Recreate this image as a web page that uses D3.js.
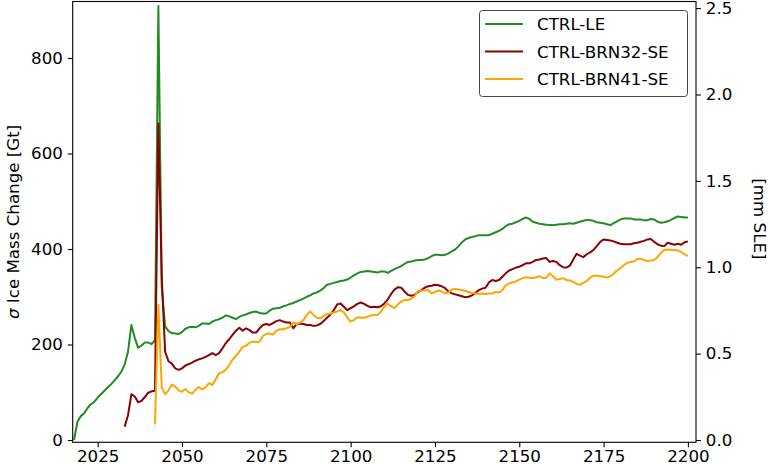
<!DOCTYPE html>
<html><head><meta charset="utf-8">
<script src="https://cdn.jsdelivr.net/npm/d3@7"></script>
<style>
body{margin:0;background:#fff}
svg{display:block}
text{font-family:"DejaVu Sans",sans-serif}
</style>
</head><body>
<svg id="chart" width="770" height="466"></svg>
<script>
// ---------------- data ----------------
const seriesNames = ["CTRL-LE", "CTRL-BRN32-SE", "CTRL-BRN41-SE"];
const seriesColors = ["#228b22", "#8b0000", "#ffa500"];

const leStartYear = 2018;
const leValues = [
  0, 38, 50, 56, 67, 75, 80, 89, 96, 103,
  110, 117, 125, 133, 143, 158, 185, 241, 214, 193,
  198, 204, 204, 201, 209, 909, 320, 238, 228, 224,
  223, 222, 226, 233, 236, 237, 236, 239, 244, 244,
  243, 248, 251, 253, 256, 261, 259, 256, 253, 258,
  261, 263, 266, 268, 269, 266, 265, 265, 271, 275,
  276, 277, 280, 282, 285, 287, 290, 293, 296, 300,
  303, 307, 309, 313, 318, 325, 327, 329, 331, 333,
  334, 336, 340, 345, 349, 352, 353, 354, 353, 352,
  351, 353, 353, 350, 354, 358, 361, 364, 369, 373,
  374, 376, 377, 377, 378, 381, 385, 388, 388, 387,
  388, 391, 395, 399, 406, 414, 420, 423, 425, 427,
  429, 429, 429, 429, 432, 435, 438, 442, 448, 452,
  453, 456, 459, 463, 466, 463, 457, 455, 453, 452,
  451, 450, 450, 451, 452, 452, 453, 454, 453, 455,
  457, 459, 461, 460, 459, 456, 455, 454, 452, 450,
  454, 458, 462, 464, 464, 464, 462, 462, 462, 460,
  460, 463, 462, 457, 455, 456, 458, 461, 465, 468,
  467, 466, 466
];

const brn32StartYear = 2033;
const brn32Values = [
  28, 52, 96, 91, 79, 82, 90, 99, 102, 103,
  663, 340, 185, 165, 160, 150, 147, 150, 156, 159,
  162, 166, 169, 171, 174, 178, 182, 178, 182, 192,
  203, 211, 220, 229, 235, 229, 234, 230, 225, 225,
  234, 241, 243, 241, 245, 249, 251, 248, 246, 246,
  234, 243, 244, 243, 241, 241, 239, 240, 243, 249,
  256, 263, 272, 284, 286, 279, 272, 276, 280, 285,
  288, 285, 281, 278, 279, 278, 280, 286, 294, 306,
  315, 320, 319, 311, 304, 302, 304, 310, 314, 319,
  322, 323, 325, 324, 322, 318, 311, 307, 305, 303,
  301, 299, 300, 303, 308, 314, 317, 319, 330, 335,
  333, 335, 342, 349, 355, 358, 361, 363, 366, 370,
  370, 373, 377, 378, 380, 381, 373, 375, 373, 366,
  362, 361, 365, 378, 390, 386, 383, 389, 393, 398,
  406, 415, 420, 419, 418, 416, 413, 411, 410, 410,
  410, 412, 413, 415, 417, 420, 421, 415, 410, 407,
  406, 413, 411, 409, 411, 409, 414, 416
];

const brn41StartYear = 2042;
const brn41Values = [
  33, 283, 110, 96, 104, 116, 112, 104, 101, 107,
  100, 97, 105, 111, 106, 110, 119, 115, 127, 140,
  142, 147, 157, 168, 176, 185, 195, 197, 204, 206,
  205, 206, 218, 222, 223, 221, 229, 232, 232, 234,
  237, 246, 243, 246, 251, 262, 269, 262, 256, 255,
  260, 264, 265, 267, 269, 272, 267, 257, 248, 251,
  257, 256, 256, 258, 261, 262, 262, 269, 279, 286,
  280, 276, 284, 290, 293, 293, 296, 301, 312, 313,
  313, 314, 307, 310, 313, 311, 307, 309, 315, 316,
  315, 314, 312, 310, 308, 307, 306, 307, 306, 307,
  307, 310, 309, 314, 324, 328, 330, 332, 336, 339,
  341, 340, 339, 341, 343, 339, 340, 349, 343, 336,
  337, 339, 335, 334, 331, 327, 325, 329, 333, 340,
  344, 344, 343, 342, 340, 343, 348, 355, 360, 366,
  371, 373, 374, 379, 380, 377, 375, 376, 377, 383,
  392, 398, 399, 398, 398, 397, 394, 389, 385
];

const xTicks = [2025, 2050, 2075, 2100, 2125, 2150, 2175, 2200];
const yTicksGt = [0, 200, 400, 600, 800];
const yTicksSle = [0.0, 0.5, 1.0, 1.5, 2.0, 2.5];
const gtPerMmSle = 361.8;
const xDomain = [2017.6, 2202.4];
const yDomainGt = [-4.8, 918.3];
const yLabelLeft = "Ice Mass Change [Gt]";
const yLabelRight = "[mm SLE]";

// ---------------- layout ----------------
const W = 770, H = 466;
const plot = {left: 72.7, right: 696, top: 1.5, bottom: 442.3};
const fontSize = 16.67;
const tickLen = 4.9, tickPad = 4.9;

const svg = d3.select("#chart");

const x = d3.scaleLinear().domain(xDomain).range([plot.left, plot.right]);
const y = d3.scaleLinear().domain(yDomainGt).range([plot.bottom, plot.top]);
const y2 = d3.scaleLinear().domain(yDomainGt.map(v => v / gtPerMmSle)).range([plot.bottom, plot.top]);

const series = [
  {start: leStartYear, values: leValues},
  {start: brn32StartYear, values: brn32Values},
  {start: brn41StartYear, values: brn41Values}
].map((s, i) => ({
  name: seriesNames[i],
  color: seriesColors[i],
  points: s.values.map((v, k) => [s.start + k, v])
}));

// clip
svg.append("defs").append("clipPath").attr("id", "clip")
  .append("rect").attr("x", plot.left).attr("y", plot.top)
  .attr("width", plot.right - plot.left).attr("height", plot.bottom - plot.top);

const line = d3.line().x(d => x(d[0])).y(d => y(d[1]));

const gLines = svg.append("g").attr("clip-path", "url(#clip)");
series.forEach(s => {
  gLines.append("path")
    .datum(s.points)
    .attr("d", line)
    .attr("fill", "none")
    .attr("stroke", s.color)
    .attr("stroke-width", 2)
    .attr("stroke-linejoin", "round")
    .attr("stroke-linecap", "butt");
});

// axes
function styleAxis(g) {
  g.select(".domain").remove();
  g.selectAll(".tick line").attr("stroke", "#000").attr("stroke-width", 1.1);
  g.selectAll(".tick text").attr("fill", "#000")
    .style("font-family", "'DejaVu Sans', sans-serif").style("font-size", fontSize + "px");
}

svg.append("g").attr("transform", `translate(0,${plot.bottom})`)
  .call(d3.axisBottom(x).tickValues(xTicks).tickFormat(d3.format("d"))
    .tickSize(tickLen).tickPadding(2.6))
  .call(styleAxis);

svg.append("g").attr("transform", `translate(${plot.left},0)`)
  .call(d3.axisLeft(y).tickValues(yTicksGt).tickFormat(d3.format("d"))
    .tickSize(tickLen).tickPadding(tickPad))
  .call(styleAxis);

svg.append("g").attr("transform", `translate(${plot.right},0)`)
  .call(d3.axisRight(y2).tickValues(yTicksSle).tickFormat(d3.format(".1f"))
    .tickSize(tickLen).tickPadding(tickPad))
  .call(styleAxis);

// frame
svg.append("rect")
  .attr("x", plot.left).attr("y", plot.top)
  .attr("width", plot.right - plot.left).attr("height", plot.bottom - plot.top)
  .attr("fill", "none").attr("stroke", "#000").attr("stroke-width", 1.1);

// axis labels
const midY = (plot.top + plot.bottom) / 2;
const ly = svg.append("text")
  .attr("transform", `translate(13,${midY}) rotate(-90)`)
  .attr("text-anchor", "middle")
  .attr("dy", "0.35em")
  .style("font-size", fontSize + "px");
ly.append("tspan").style("font-style", "italic").text("σ");
ly.append("tspan").text(" " + yLabelLeft);

svg.append("text")
  .attr("transform", `translate(760,${midY - 3}) rotate(90)`)
  .attr("text-anchor", "middle")
  .attr("dy", "0.35em")
  .style("font-size", fontSize + "px")
  .text(yLabelRight);

// legend
const lg = svg.append("g");
lg.append("rect")
  .attr("x", 479.5).attr("y", 10.5).attr("width", 208).attr("height", 86)
  .attr("rx", 3).attr("ry", 3)
  .attr("fill", "#fff").attr("fill-opacity", 0.8)
  .attr("stroke", "#444").attr("stroke-width", 1);
const rowY = [24, 51.5, 79];
series.forEach((s, i) => {
  lg.append("line")
    .attr("x1", 485).attr("x2", 523)
    .attr("y1", rowY[i]).attr("y2", rowY[i])
    .attr("stroke", s.color).attr("stroke-width", 2);
  lg.append("text")
    .attr("x", 537).attr("y", rowY[i]).attr("dy", "0.36em")
    .style("font-size", fontSize + "px")
    .text(s.name);
});
</script>
</body></html>
